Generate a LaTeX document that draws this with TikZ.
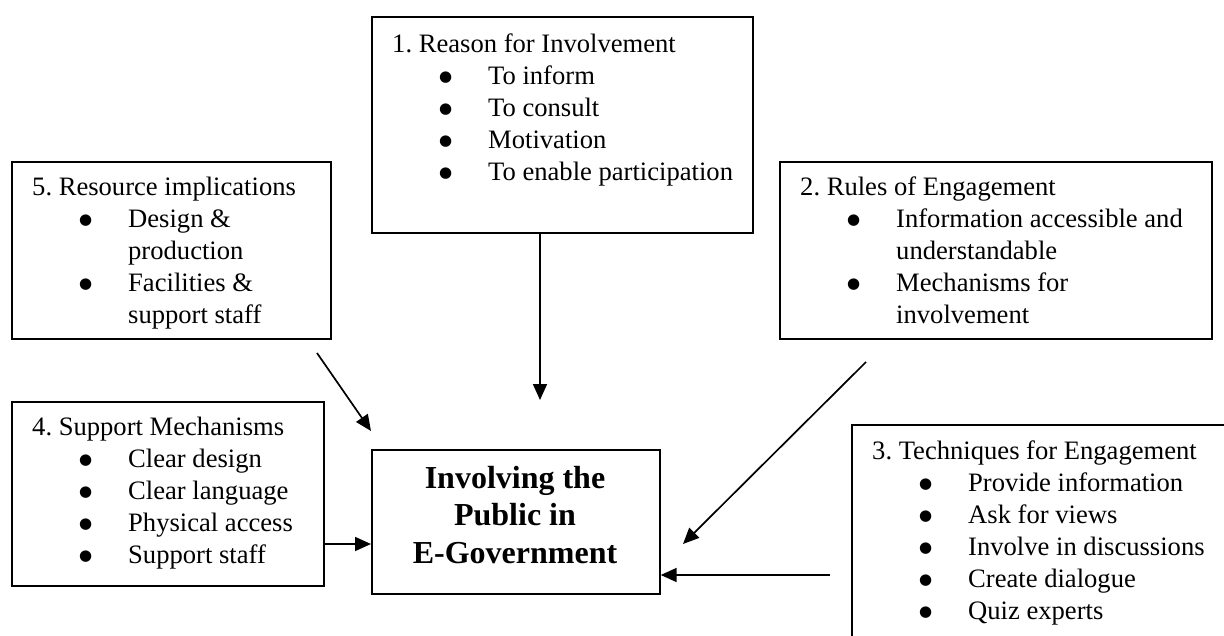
\documentclass[tikz,border=0pt]{standalone}
\usepackage{fontspec}
\setmainfont{Liberation Serif}
\newfontfamily\symfont{DejaVu Sans}
\frenchspacing
\usetikzlibrary{arrows.meta}
\newcommand\bigbul{\raisebox{3pt}{\symfont\fontsize{15}{15}\selectfont ●}}
\newcommand\itm[1]{\hspace*{47pt}\makebox[49pt][l]{\bigbul}#1}
\newcommand\cnt[1]{\hspace*{96pt}#1}
\tikzset{
  box/.style={draw, line width=1.7pt, anchor=north west, inner sep=0pt},
  txt/.style={anchor=north west, inner sep=0pt, align=left, font=\fontsize{26.6}{32}\selectfont},
  ctxt/.style={anchor=north, inner sep=0pt, align=center, font=\fontsize{32}{37.5}\selectfont\bfseries},
  arr/.style={line width=1.7pt, -{Triangle[length=16pt,width=14pt]}}
}
\begin{document}
\begin{tikzpicture}[x=1pt,y=-1pt]
\clip (0,0) rectangle (1224,635);
\fill[white] (0,0) rectangle (1224,635);
% box 1
\node[box, minimum width=381pt, minimum height=216pt] (b1) at (371,16) {};
\node[txt] (t1) at (392,16+36-22.4) {\strut 1. Reason for Involvement\\
\itm{To inform}\\ \itm{To consult}\\ \itm{Motivation}\\ \itm{To enable participation}};
% box 5
\node[box, minimum width=319pt, minimum height=177pt] (b5) at (11,161) {};
\node[txt] (t5) at (32,161+34-22.4) {\strut 5. Resource implications\\
\itm{Design \&}\\ \cnt{production}\\ \itm{Facilities \&}\\ \cnt{support staff}};
% box 2
\node[box, minimum width=432pt, minimum height=177pt] (b2) at (779,161) {};
\node[txt] (t2) at (800,161+34-22.4) {\strut 2. Rules of Engagement\\
\itm{Information accessible and}\\ \cnt{understandable}\\ \itm{Mechanisms for}\\ \cnt{involvement}};
% box 4
\node[box, minimum width=312pt, minimum height=184pt] (b4) at (11,401) {};
\node[txt] (t4) at (32,401+34-22.4) {\strut 4. Support Mechanisms\\
\itm{Clear design}\\ \itm{Clear language}\\ \itm{Physical access}\\ \itm{Support staff}};
% box 3
\node[box, minimum width=420pt, minimum height=260pt] (b3) at (851,424) {};
\node[txt] (t3) at (872,424+35-22.4) {\strut 3. Techniques for Engagement\\
\itm{Provide information}\\ \itm{Ask for views}\\ \itm{Involve in discussions}\\ \itm{Create dialogue}\\ \itm{Quiz experts}};
% central
\node[box, minimum width=288pt, minimum height=144pt] (c) at (371,449) {};
\node[ctxt] (ct) at (515,488-26.25) {\strut Involving the\\ Public in\\ E-Government};
% arrows
\coordinate (a1) at (540,400);
\draw[arr] (b1.south -| a1) -- (a1);
\coordinate (a5s) at (317,353);
\coordinate (a5e) at (371,431);
\draw[arr] (a5s) -- (a5e);
\coordinate (a4) at (0,544);
\draw[arr] (b4.east |- a4) -- (c.west |- a4);
\coordinate (a2s) at (866,362);
\coordinate (a2e) at (683,544);
\draw[arr] (a2s) -- (a2e);
\coordinate (a3s) at (830,575);
\draw[arr] (a3s) -- (c.east |- a3s);
\end{tikzpicture}
\end{document}
